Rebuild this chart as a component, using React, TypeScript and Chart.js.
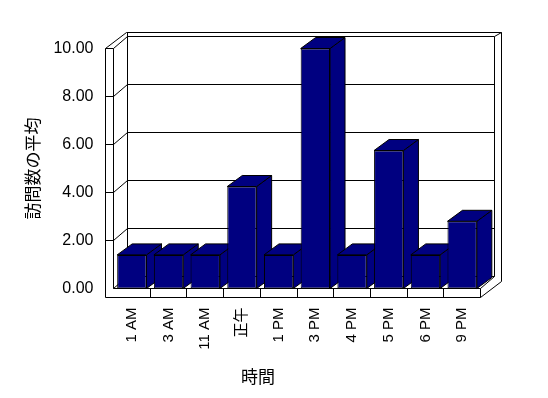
import React, { useEffect, useRef } from 'react';
import { Chart, registerables } from 'chart.js';

Chart.register(...registerables);

// ---- data ----
const categories = ['1 AM', '3 AM', '11 AM', '正午', '1 PM', '3 PM', '4 PM', '5 PM', '6 PM', '9 PM'];
const visitAverages = [1.4, 1.4, 1.4, 4.25, 1.4, 10, 1.4, 5.75, 1.4, 2.8];
const yTickValues = [0, 2, 4, 6, 8, 10];
const yAxisTitle = '訪問数の平均';
const xAxisTitle = '時間';

// ---- styles ----
const NAVY = '#000080';
const LATIN = "'Liberation Sans', 'Noto Sans CJK JP', sans-serif";
const CJK = "'Noto Sans CJK JP', 'Liberation Sans', sans-serif";
const WALL_D1 = { x: 14, y: -12 };
const WALL_D2 = { x: 21, y: -16 };
const BAR_D = { x: 15, y: -11 };
const WALL_T = 8;
const FLOOR_T = 9;

const snap = (v: number) => Math.round(v - 0.5) + 0.5;

const box3d = {
  id: 'box3d',
  beforeDatasetsDraw(chart: any) {
    const { ctx, chartArea, scales } = chart;
    const xs = scales.x;
    const ys = scales.y;
    const L = snap(chartArea.left);
    const R = snap(chartArea.right);
    const T = snap(ys.getPixelForValue(ys.max));
    const B = snap(ys.getPixelForValue(ys.min));
    ctx.save();
    ctx.strokeStyle = '#000';
    ctx.lineWidth = 1;
    const line = (x1: number, y1: number, x2: number, y2: number) => {
      ctx.beginPath();
      ctx.moveTo(x1, y1);
      ctx.lineTo(x2, y2);
      ctx.stroke();
    };
    // gridlines on left wall inner side and back wall
    ys.ticks.forEach((t: any) => {
      const yv = snap(ys.getPixelForValue(t.value));
      if (t.value !== ys.min) line(L - WALL_T, yv, L, yv);
      line(L, yv, L + WALL_D1.x, yv + WALL_D1.y);
      line(L + WALL_D1.x, yv + WALL_D1.y, R + WALL_D1.x, yv + WALL_D1.y);
    });
    // left wall
    line(L - WALL_T, T, L - WALL_T, B + FLOOR_T);
    line(L, T, L, B);
    line(L - WALL_T, T, L - WALL_T + WALL_D2.x, T + WALL_D2.y);
    // back wall
    line(L + WALL_D1.x, T + WALL_D2.y, L + WALL_D1.x, B + WALL_D1.y);
    line(R + WALL_D1.x, T + WALL_D1.y, R + WALL_D1.x, B + WALL_D1.y);
    line(R + WALL_D2.x, T + WALL_D2.y, R + WALL_D2.x, B + FLOOR_T + WALL_D2.y);
    line(L - WALL_T + WALL_D2.x, T + WALL_D2.y, R + WALL_D2.x, T + WALL_D2.y);
    line(R + WALL_D1.x, T + WALL_D1.y, R + WALL_D2.x, T + WALL_D2.y);
    // floor
    line(L, B, R, B);
    line(L - WALL_T, B + FLOOR_T, R, B + FLOOR_T);
    line(R, B, R, B + FLOOR_T);
    const n = xs.ticks.length;
    for (let i = 1; i < n; i++) {
      const xb = snap((xs.getPixelForTick(i - 1) + xs.getPixelForTick(i)) / 2);
      line(xb, B, xb, B + FLOOR_T);
    }
    line(R, B, R + WALL_D1.x, B + WALL_D1.y);
    line(R, B + FLOOR_T, R + WALL_D2.x, B + FLOOR_T + WALL_D2.y);

    // 3D sides and tops of bars
    const meta = chart.getDatasetMeta(0);
    meta.data.forEach((el: any) => {
      const { x, y, base, width } = el.getProps(['x', 'y', 'base', 'width'], true);
      const l = x - width / 2;
      const r = x + width / 2;
      ctx.fillStyle = NAVY;
      ctx.beginPath();
      ctx.moveTo(r, y);
      ctx.lineTo(r + BAR_D.x, y + BAR_D.y);
      ctx.lineTo(r + BAR_D.x, base + BAR_D.y);
      ctx.lineTo(r, base);
      ctx.closePath();
      ctx.fill();
      ctx.stroke();
      ctx.beginPath();
      ctx.moveTo(l, y);
      ctx.lineTo(l + BAR_D.x, y + BAR_D.y);
      ctx.lineTo(r + BAR_D.x, y + BAR_D.y);
      ctx.lineTo(r, y);
      ctx.closePath();
      ctx.fill();
      ctx.stroke();
    });
    ctx.restore();
  },
};

export default function App() {
  const ref = useRef<HTMLCanvasElement>(null);
  useEffect(() => {
    const chart = new Chart(ref.current as HTMLCanvasElement, {
      type: 'bar',
      data: {
        labels: categories,
        datasets: [
          {
            data: visitAverages,
            backgroundColor: NAVY,
            borderColor: '#000',
            borderWidth: 1,
            borderSkipped: false,
            barPercentage: 0.8,
            categoryPercentage: 1,
          },
        ],
      },
      options: {
        responsive: false,
        animation: false,
        events: [],
        layout: { padding: { left: 35.5, right: 67.5, top: 48.5, bottom: 11.5 } },
        plugins: {
          legend: { display: false },
          tooltip: { enabled: false },
          title: {
            display: true,
            text: xAxisTitle,
            position: 'bottom',
            color: '#000',
            padding: 0,
            font: { family: CJK, size: 17, weight: 'normal' },
          },
        },
        scales: {
          x: {
            grid: { display: false, drawTicks: false },
            border: { display: false },
            ticks: {
              autoSkip: false,
              minRotation: 90,
              maxRotation: 90,
              padding: 19,
              color: '#000',
              font: { family: LATIN, size: 15 },
            },
            afterFit: (s: any) => {
              s.height = 77.6;
            },
          },
          y: {
            min: 0,
            max: 10,
            grid: { display: false, drawTicks: false },
            border: { display: false },
            afterBuildTicks: (s: any) => {
              s.ticks = yTickValues.map((v) => ({ value: v }));
            },
            ticks: {
              padding: 20,
              color: '#000',
              font: { family: LATIN, size: 16 },
              callback: (v: any) => Number(v).toFixed(2),
            },
            title: {
              display: true,
              text: yAxisTitle,
              color: '#000',
              padding: { top: -13.4, bottom: 0 },
              font: { family: CJK, size: 17, weight: 'normal' },
            },
            afterFit: (s: any) => {
              s.width = 78;
            },
          },
        },
      } as any,
      plugins: [box3d],
    });
    return () => chart.destroy();
  }, []);
  return (
    <div style={{ position: 'absolute', left: 0, top: 0, width: 548, height: 398, background: '#fff' }}>
      <canvas ref={ref} width={548} height={398} style={{ display: 'block' }} />
    </div>
  );
}
